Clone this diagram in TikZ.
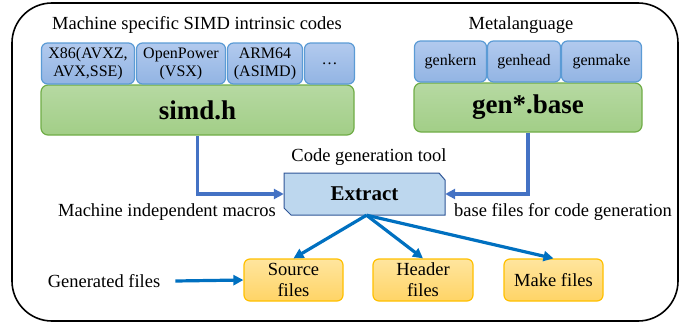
\documentclass[tikz,border=0pt]{standalone}
\usepackage{fontspec}
\setmainfont{Liberation Serif}
\usetikzlibrary{arrows.meta}
\definecolor{bluedraw}{HTML}{5B9BD5}
\definecolor{bluetop}{HTML}{B2CAEE}
\definecolor{bluebot}{HTML}{92B4E3}
\definecolor{greendraw}{HTML}{70AD47}
\definecolor{greentop}{HTML}{B6D9A2}
\definecolor{greenbot}{HTML}{A2CE87}
\definecolor{orangedraw}{HTML}{FFC000}
\definecolor{orangetop}{HTML}{FFE59E}
\definecolor{orangebot}{HTML}{FFD466}
\definecolor{extfill}{HTML}{BDD7EE}
\definecolor{extdraw}{HTML}{2F5597}
\definecolor{upline}{HTML}{4472C4}
\definecolor{downline}{HTML}{0070C0}
\tikzset{
  bluebox/.style={draw=bluedraw, line width=1.2pt, rounded corners=6pt,
    top color=bluetop, bottom color=bluebot, inner sep=0pt, align=center,
    minimum height=41pt, font=\fontsize{16}{18}\selectfont},
  greenbox/.style={draw=greendraw, line width=1.2pt, rounded corners=7pt,
    top color=greentop, bottom color=greenbot, inner sep=0pt, align=center,
    font=\bfseries\fontsize{27}{30}\selectfont},
  filebox/.style={draw=orangedraw, line width=1.2pt, rounded corners=6pt,
    top color=orangetop, bottom color=orangebot, inner sep=0pt, align=center,
    minimum height=42pt, font=\fontsize{18.5}{21}\selectfont},
  lbl/.style={inner sep=0pt, font=\fontsize{18.5}{21}\selectfont},
  upconn/.style={draw=upline, line width=3.2pt, -{Triangle[length=10pt,width=10pt]}},
  downconn/.style={draw=downline, line width=3.2pt, -{Triangle[length=10pt,width=10pt]}}
}
\begin{document}
\begin{tikzpicture}[x=1pt,y=-1pt]
\useasboundingbox (0,0) rectangle (694,324);
% outer frame
\draw[line width=1.6pt, rounded corners=40pt] (12,3) rectangle (678,321);

% left group
\node[lbl] (title1) at (197,25) {Machine specific SIMD intrinsic codes};
\node[greenbox, minimum width=313pt, minimum height=50pt] (simd) at (197.5,110) {simd.h};
\node[bluebox, minimum width=93pt] (x86) at (88,63.5) {X86(AVXZ,\\AVX,SSE)};
\node[bluebox, minimum width=89pt] (opw) at (181,63.5) {OpenPower\\(VSX)};
\node[bluebox, minimum width=75pt] (arm) at (265,63.5) {ARM64\\(ASIMD)};
\node[bluebox, minimum width=50pt] (dots) at (329.5,63.5) {…};

% right group
\node[lbl] (title2) at (521,25) {Metalanguage};
\node[greenbox, minimum width=228pt, minimum height=49pt] (genbase) at (528,107.5) {gen*.base};
\node[bluebox, minimum width=72pt] (genkern) at (450.5,61.5) {genkern};
\node[bluebox, minimum width=73pt] (genhead) at (524,61.5) {genhead};
\node[bluebox, minimum width=80pt] (genmake) at (601.5,61.5) {genmake};

% extract
\node[lbl] (cgt) at (369,157) {Code generation tool};
\filldraw[fill=extfill, draw=extdraw, line width=1pt]
  (284,173) -- (439,173) -- (445,180) -- (445,215) -- (291,215) -- (284,208) -- cycle;
\node[inner sep=0pt, minimum width=161pt, minimum height=42pt,
  font=\bfseries\fontsize{21}{24}\selectfont] (ext) at (364.5,194) {Extract};

\node[lbl] (mim) at (167,212) {Machine independent macros};
\node[lbl] (bfc) at (563,212) {base files for code generation};

\draw[upconn] (simd.south) |- (ext.west);
\draw[upconn] (genbase.south) |- (ext.east);

% files
\node[filebox, minimum width=99pt] (src) at (293.5,280) {Source\\files};
\node[filebox, minimum width=100pt] (hdr) at (423,280) {Header\\files};
\node[filebox, minimum width=99pt] (mk) at (553.5,280) {Make files};
\node[lbl] (genf) at (104,281) {Generated files};

\coordinate (extout) at ([xshift=2pt]ext.south);
\draw[downconn] (extout) -- (src.north);
\draw[downconn] (extout) -- (hdr.north);
\draw[downconn] (extout) -- (mk.north);
\draw[downconn] ([xshift=15pt]genf.east) -- (src.west);
\end{tikzpicture}
\end{document}
